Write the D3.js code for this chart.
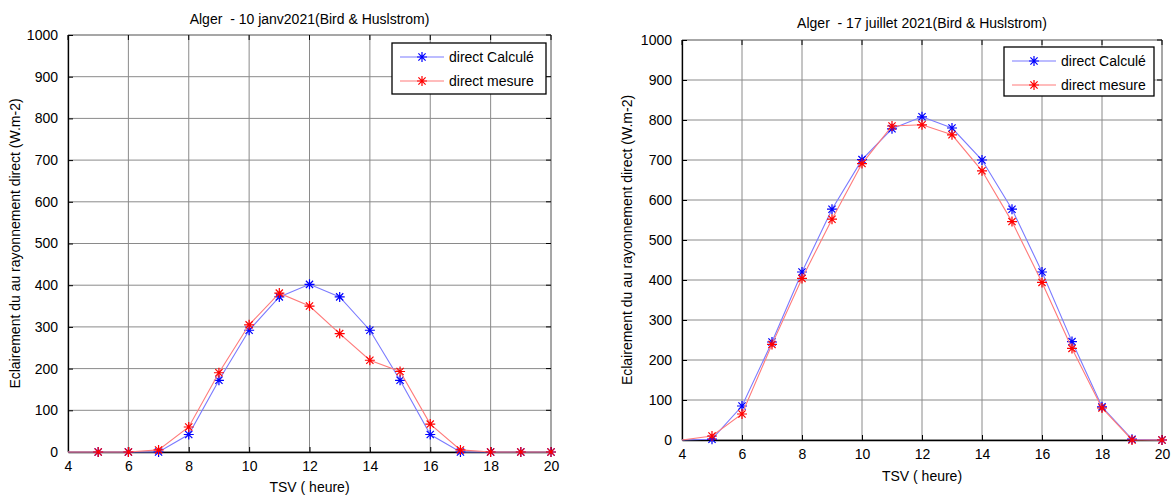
<!DOCTYPE html>
<html>
<head>
<meta charset="utf-8">
<script src="https://cdn.jsdelivr.net/npm/d3@7/dist/d3.min.js"></script>
<style>
  html, body { margin: 0; padding: 0; background: #fff; }
  svg { display: block; font-family: "Liberation Sans", Arial, sans-serif; }
  text { white-space: pre; }
</style>
</head>
<body>
<svg id="chart" width="1175" height="495"></svg>
<script>
// ---------- data ----------
const hours = [4, 5, 6, 7, 8, 9, 10, 11, 12, 13, 14, 15, 16, 17, 18, 19, 20];

const janCalc = [0, 0, 0, 0, 42, 172, 292, 372, 402, 372, 292, 172, 42, 0, 0, 0, 0];
const janMes  = [0, 0, 0, 5, 60, 190, 305, 381, 350, 284, 220, 193, 67, 5, 0, 0, 0];

const julCalc = [0, 2, 85, 245, 420, 577, 701, 778, 808, 780, 700, 577, 420, 246, 83, 2, 0];
const julMes  = [0, 10, 65, 239, 404, 552, 691, 785, 788, 763, 673, 546, 394, 229, 80, 0, 0];

const xTicks = [4, 6, 8, 10, 12, 14, 16, 18, 20];
const yTicks = [0, 100, 200, 300, 400, 500, 600, 700, 800, 900, 1000];

const titles = [
  "Alger  - 10 janv2021(Bird & Huslstrom)",
  "Alger  - 17 juillet 2021(Bird & Huslstrom)"
];
const seriesNames = ["direct Calculé", "direct mesure"];
const xLabel = "TSV ( heure)";
const yLabel = "Eclairement du au rayonnement direct (W.m-2)";

// ---------- drawing ----------
const svg = d3.select("#chart");
const FONT = 14;
const blueLine = "#7a7aff", blueMark = "#0000ff";
const redLine = "#ff7a7a", redMark = "#ff0000";

function star(g, x, y, color) {
  const r = 5, d = 3.6;
  g.append("path")
    .attr("d", `M${x - r},${y}H${x + r}M${x},${y - r}V${y + r}M${x - d},${y - d}L${x + d},${y + d}M${x - d},${y + d}L${x + d},${y - d}`)
    .attr("stroke", color).attr("stroke-width", 1.2).attr("fill", "none");
}

function drawChart(cfg) {
  const { left, right, top, bottom, calc, mes, title, legend, titleY, ylabX, xlabY } = cfg;
  const x = d3.scaleLinear().domain([4, 20]).range([left, right]);
  const y = d3.scaleLinear().domain([0, 1000]).range([bottom, top]);
  const g = svg.append("g");

  // grid
  g.append("g").selectAll("line").data(xTicks).join("line")
    .attr("x1", d => x(d)).attr("x2", d => x(d)).attr("y1", top).attr("y2", bottom)
    .attr("stroke", "#8a8a8a").attr("stroke-width", 1);
  g.append("g").selectAll("line").data(yTicks).join("line")
    .attr("x1", left).attr("x2", right).attr("y1", d => y(d)).attr("y2", d => y(d))
    .attr("stroke", "#8a8a8a").attr("stroke-width", 1);

  // top / right box edges
  g.append("line").attr("x1", left).attr("x2", right).attr("y1", top).attr("y2", top)
    .attr("stroke", "#888").attr("stroke-width", 1);
  g.append("line").attr("x1", right).attr("x2", right).attr("y1", top).attr("y2", bottom)
    .attr("stroke", "#888").attr("stroke-width", 1);

  // inner ticks top & right
  g.append("g").selectAll("line").data(xTicks).join("line")
    .attr("x1", d => x(d)).attr("x2", d => x(d)).attr("y1", top).attr("y2", top + 5)
    .attr("stroke", "#000");
  g.append("g").selectAll("line").data(yTicks).join("line")
    .attr("x1", right - 5).attr("x2", right).attr("y1", d => y(d)).attr("y2", d => y(d))
    .attr("stroke", "#000");

  // axes
  const xAxis = d3.axisBottom(x).tickValues(xTicks).tickFormat(d3.format("d"))
    .tickSizeInner(-5).tickSizeOuter(0).tickPadding(9);
  const yAxis = d3.axisLeft(y).tickValues(yTicks).tickFormat(d3.format("d"))
    .tickSizeInner(-5).tickSizeOuter(0).tickPadding(10);
  const gx = g.append("g").attr("transform", `translate(0,${bottom})`).call(xAxis);
  const gy = g.append("g").attr("transform", `translate(${left},0)`).call(yAxis);
  [gx, gy].forEach(a => {
    a.select(".domain").attr("stroke", "#000").attr("stroke-width", 1.3);
    a.selectAll(".tick line").attr("stroke", "#000");
    a.selectAll(".tick text").attr("font-size", FONT).attr("fill", "#000")
      .attr("font-family", "Liberation Sans, Arial, sans-serif");
  });

  // lines
  const line = d3.line().x((d, i) => x(hours[i])).y(d => y(d));
  g.append("path").datum(calc).attr("d", line).attr("fill", "none")
    .attr("stroke", blueLine).attr("stroke-width", 1.1);
  const mg = g.append("g");
  calc.forEach((v, i) => { if (hours[i] > 4) star(mg, x(hours[i]), y(v), blueMark); });
  g.append("path").datum(mes).attr("d", line).attr("fill", "none")
    .attr("stroke", redLine).attr("stroke-width", 1.1);
  const rg = g.append("g");
  mes.forEach((v, i) => { if (hours[i] > 4) star(rg, x(hours[i]), y(v), redMark); });

  // title
  svg.append("text").attr("x", (left + right) / 2).attr("y", titleY)
    .attr("text-anchor", "middle").attr("font-size", FONT).text(title);
  // x label
  svg.append("text").attr("x", (left + right) / 2).attr("y", xlabY)
    .attr("text-anchor", "middle").attr("font-size", FONT).text(xLabel);
  // y label
  svg.append("text").attr("transform", `translate(${ylabX},${(top + bottom) / 2}) rotate(-90)`)
    .attr("text-anchor", "middle").attr("font-size", FONT).text(yLabel);

  // legend
  const L = legend;
  const lg = svg.append("g");
  lg.append("rect").attr("x", L.x).attr("y", L.y).attr("width", L.w).attr("height", L.h)
    .attr("fill", "#fff").attr("stroke", "#000").attr("stroke-width", 1.3);
  const rows = [[seriesNames[0], blueLine, blueMark], [seriesNames[1], redLine, redMark]];
  rows.forEach((r, i) => {
    const cy = L.y + 14 + i * 24;
    lg.append("line").attr("x1", L.x + 8).attr("x2", L.x + 52).attr("y1", cy).attr("y2", cy)
      .attr("stroke", r[1]).attr("stroke-width", 1.1);
    star(lg, L.x + 30, cy, r[2]);
    lg.append("text").attr("x", L.x + 57).attr("y", cy + 5).attr("font-size", FONT).text(r[0]);
  });
}

drawChart({
  left: 68, right: 551, top: 35, bottom: 452,
  calc: janCalc, mes: janMes, title: titles[0],
  legend: { x: 392, y: 43, w: 154, h: 51 },
  titleY: 24, ylabX: 20, xlabY: 492
});
drawChart({
  left: 682, right: 1162, top: 40, bottom: 440,
  calc: julCalc, mes: julMes, title: titles[1],
  legend: { x: 1004, y: 47, w: 150, h: 49 },
  titleY: 28, ylabX: 632, xlabY: 481
});
</script>
</body>
</html>
